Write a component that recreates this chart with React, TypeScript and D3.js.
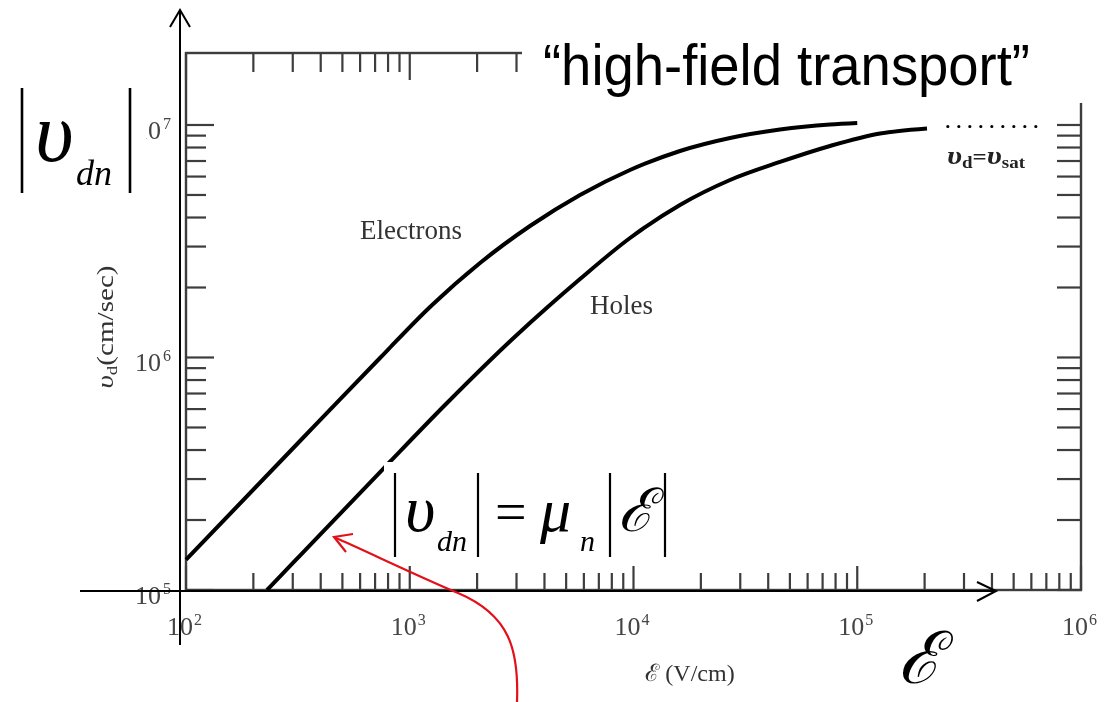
import React from "react";
import * as d3 from "d3";

// Drift velocity vs. electric field in silicon (log-log)
const electronField = [100, 323.2, 487.9, 736.2, 1231.9, 2060.6, 3446, 5767, 9647, 16134, 27004, 45150, 75540, 1.0e5];
const electronVelocity = [1.35e5, 4.374e5, 6.61e5, 9.95e5, 1.649e6, 2.55e6, 3.677e6, 5.0e6, 6.405e6, 7.73e6, 8.793e6, 9.564e6, 1.005e7, 1.02e7];
const holeField = [230.1, 323.2, 759.3, 1467, 2894, 5767, 9647, 16134, 27004, 45150, 75540, 1.264e5, 2.05e5];
const holeVelocity = [1.0e5, 1.407e5, 3.314e5, 6.373e5, 1.207e6, 2.176e6, 3.266e6, 4.529e6, 5.799e6, 6.933e6, 8.123e6, 9.192e6, 9.659e6];
const saturationVelocity = 9.85e6;
const saturationField = [2.54e5, 6.45e5];
const fieldDecades = [2, 3, 4, 5, 6];
const velocityDecades = [5, 6, 7];

const W = 1119;
const H = 702;

const x = d3.scaleLog().domain([1e2, 1e6]).range([186, 1081]);
const y = d3.scaleLog().domain([1e5, 2.04e7]).range([590, 53]);

type Pt = { e: number; v: number };
const line = d3
  .line<Pt>()
  .x((d) => x(d.e))
  .y((d) => y(d.v))
  .curve(d3.curveMonotoneX);

const electrons: Pt[] = electronField.map((e, i) => ({ e, v: electronVelocity[i] }));
const holes: Pt[] = holeField.map((e, i) => ({ e, v: holeVelocity[i] }));

// minor/major log ticks
const fieldTicks: { v: number; major: boolean }[] = [];
fieldDecades.forEach((d) => {
  for (let m = 1; m <= 9; m++) {
    if (d === 6 && m > 1) break;
    fieldTicks.push({ v: m * Math.pow(10, d), major: m === 1 });
  }
});
const velocityTicks: { v: number; major: boolean }[] = [];
velocityDecades.forEach((d) => {
  for (let m = 1; m <= 9; m++) {
    if (d === 7 && m > 1) break;
    velocityTicks.push({ v: m * Math.pow(10, d), major: m === 1 });
  }
});

const serif = "'Liberation Serif', 'Times New Roman', serif";
const scanInk = "#3c3c3c";

export default function App() {
  const x0 = x.range()[0];
  const x1 = x.range()[1];
  const yb = y.range()[0];
  const yt = y.range()[1];

  return (
    <svg
      width={W}
      height={H}
      viewBox={`0 0 ${W} ${H}`}
      style={{ position: "absolute", left: 0, top: 0, background: "#fff" }}
    >
      <defs>
        <filter id="soft" x="-5%" y="-5%" width="110%" height="110%">
          <feGaussianBlur stdDeviation="0.6" />
        </filter>
      </defs>
      <rect width={W} height={H} fill="#fff" />

      {/* plot frame, ticks, curves and labels */}
      <g filter="url(#soft)">
        <rect x={x0} y={yt} width={x1 - x0} height={yb - yt} fill="none" stroke={scanInk} strokeWidth={2.4} />
        {fieldTicks.map((t, i) => (
          <g key={"fx" + i} stroke={scanInk} strokeWidth={2.2}>
            <line x1={x(t.v)} x2={x(t.v)} y1={yb} y2={yb - (t.major ? 24 : 17)} />
            <line x1={x(t.v)} x2={x(t.v)} y1={yt} y2={yt + (t.major ? 27 : 19)} />
          </g>
        ))}
        {velocityTicks.map((t, i) => (
          <g key={"vy" + i} stroke={scanInk} strokeWidth={2.2}>
            <line x1={x0} x2={x0 + (t.major ? 28 : 20)} y1={y(t.v)} y2={y(t.v)} />
            <line x1={x1} x2={x1 - 24} y1={y(t.v)} y2={y(t.v)} />
          </g>
        ))}

        <path d={line(electrons) ?? ""} fill="none" stroke="#000" strokeWidth={4} />
        <path d={line(holes) ?? ""} fill="none" stroke="#000" strokeWidth={4} />

        <line
          x1={x(saturationField[0])}
          x2={x(saturationField[1])}
          y1={y(saturationVelocity)}
          y2={y(saturationVelocity)}
          stroke="#000"
          strokeWidth={3.2}
          strokeLinecap="round"
          strokeDasharray="0 11"
        />
        <text
          x={947}
          y={164}
          fontFamily={serif}
          fill="#222"
          fontSize={26}
          fontWeight="bold"
          textLength={78}
          lengthAdjust="spacingAndGlyphs"
        >
          <tspan fontStyle="italic">υ</tspan>
          <tspan fontSize={16} dy={4}>d</tspan>
          <tspan fontSize={21} dy={-4}>=</tspan>
          <tspan fontStyle="italic">υ</tspan>
          <tspan fontSize={16} dy={4}>sat</tspan>
        </text>

        {fieldDecades.map((d) => (
          <text key={"xl" + d} x={x(Math.pow(10, d)) - 19} y={635} fontFamily={serif} fontSize={26} fill="#444">
            10<tspan fontSize={16} dx={1} dy={-10}>{d}</tspan>
          </text>
        ))}
        {velocityDecades.map((d) => (
          <text key={"yl" + d} x={135} y={y(Math.pow(10, d)) + 14} fontFamily={serif} fontSize={26} fill="#444">
            10<tspan fontSize={16} dx={2} dy={-10}>{d}</tspan>
          </text>
        ))}

        <text x={360} y={239} fontFamily={serif} fontSize={27} fill="#333">
          Electrons
        </text>
        <text x={590} y={314} fontFamily={serif} fontSize={27} fill="#333">
          Holes
        </text>

        <text
          transform="translate(113,327) rotate(-90)"
          textAnchor="middle"
          fontFamily={serif}
          fontSize={23}
          fill="#333"
          textLength={123}
          lengthAdjust="spacingAndGlyphs"
        >
          <tspan fontStyle="italic">υ</tspan>
          <tspan fontSize={15} dy={4}>d</tspan>
          <tspan dy={-4}>(cm/sec)</tspan>
        </text>
        <text x={690} y={681} textAnchor="middle" fontFamily={serif} fontSize={24} fill="#333">
          ℰ (V/cm)
        </text>
      </g>

      {/* white panels behind the annotations */}
      <rect x={522} y={0} width={W - 522} height={103} fill="#fff" />
      <rect x={0} y={60} width={146} height={145} fill="#fff" />
      <rect x={384} y={462} width={286} height={104} fill="#fff" />

      {/* coordinate arrows */}
      <g stroke="#000" strokeWidth={2} fill="none">
        <path d="M180,645 L180,10" />
        <path d="M170,27 L180,10 L190,27" />
        <path d="M80,591 L996,591" />
        <path d="M977,582 L996,591 L977,601" />
      </g>

      <text
        x={543}
        y={85}
        fontFamily="'Liberation Sans', Arial, sans-serif"
        fontSize={57}
        fill="#000"
        textLength={487}
        lengthAdjust="spacingAndGlyphs"
      >
        “high-field transport”
      </text>

      {/* |v_dn| */}
      <g stroke="#000" strokeWidth={2.6}>
        <line x1={22} x2={22} y1={88} y2={193} />
        <line x1={130} x2={130} y1={88} y2={193} />
      </g>
      <text x={35} y={161} fontFamily={serif} fontStyle="italic" fontSize={84} fill="#000">
        υ
      </text>
      <text x={76} y={185} fontFamily={serif} fontStyle="italic" fontSize={36} fill="#000">
        dn
      </text>

      {/* |v_dn| = mu_n |E| */}
      <g stroke="#000" strokeWidth={2.2}>
        <line x1={395} x2={395} y1={473} y2={557} />
        <line x1={478} x2={478} y1={473} y2={557} />
        <line x1={610} x2={610} y1={473} y2={557} />
        <line x1={665} x2={665} y1={473} y2={557} />
      </g>
      <text x={405} y={531} fontFamily={serif} fontStyle="italic" fontSize={66} fill="#000">
        υ
      </text>
      <text x={437} y={551} fontFamily={serif} fontStyle="italic" fontSize={30} fill="#000">
        dn
      </text>
      <text x={495} y={531} fontFamily={serif} fontSize={56} fill="#000">
        =
      </text>
      <text x={540} y={531} fontFamily={serif} fontStyle="italic" fontSize={62} fill="#000">
        μ
      </text>
      <text x={580} y={551} fontFamily={serif} fontStyle="italic" fontSize={30} fill="#000">
        n
      </text>
      <text x={618} y={531} fontFamily="'DejaVu Serif', serif" fontStyle="italic" fontSize={60} fill="#000">
        ℰ
      </text>

      {/* field symbol by the horizontal arrow */}
      <text x={898} y={683} fontFamily="'DejaVu Serif', serif" fontStyle="italic" fontSize={72} fill="#000">
        ℰ
      </text>

      {/* red pointer to the linear region */}
      <g stroke="#e3101a" strokeWidth={2.2} fill="none">
        <path d="M517,702 C519,650 510,615 458,593 C420,577 370,553 334,537" />
        <path d="M353,534 L334,537 L346,552" />
      </g>
    </svg>
  );
}
